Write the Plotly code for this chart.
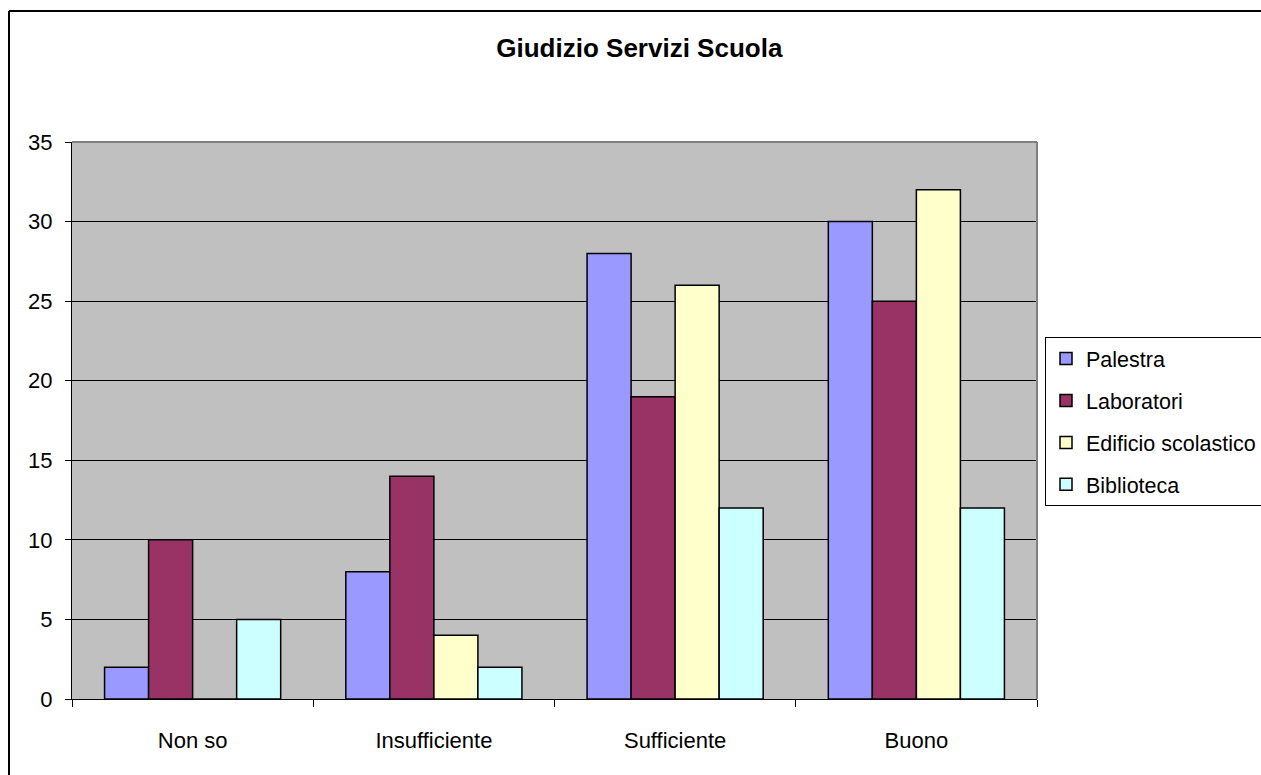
import plotly.graph_objects as go

categories = ["Non so", "Insufficiente", "Sufficiente", "Buono"]
palestra = [2, 8, 28, 30]
laboratori = [10, 14, 19, 25]
edificio = [0, 4, 26, 32]
biblioteca = [5, 2, 12, 12]

series = [
    ("Palestra", palestra, "#9999FF"),
    ("Laboratori", laboratori, "#993366"),
    ("Edificio scolastico", edificio, "#FFFFCC"),
    ("Biblioteca", biblioteca, "#CCFFFF"),
]

fig = go.Figure()
for i, (name, vals, col) in enumerate(series):
    fig.add_trace(go.Bar(
        x=categories, y=vals, name=name, legendgroup=f"g{i}",
        marker=dict(color=col, line=dict(color="black", width=1.5)),
    ))

L, R, T, B = 72, 1037, 142, 699
W, H = 1261, 775

def px(x):
    return (x - L) / (R - L)

def py(y):
    return (B - y) / (B - T)

fig.update_layout(
    width=W, height=H,
    margin=dict(l=L, r=W - R, t=T, b=H - B, autoexpand=False),
    paper_bgcolor="white",
    plot_bgcolor="#C0C0C0",
    font=dict(family="Liberation Sans, Arial, sans-serif", size=22, color="black"),
    title=dict(text="<b>Giudizio Servizi Scuola</b>", x=0.507, xanchor="center",
               y=1 - 48 / H, yanchor="middle", yref="container",
               font=dict(size=26, color="black")),
    barmode="group",
    bargap=0.27,
    bargroupgap=0,
    showlegend=True,
    legend=dict(x=px(1045), y=py(337), xanchor="left", yanchor="top",
                bordercolor="black", borderwidth=1, bgcolor="white",
                traceorder="grouped", tracegroupgap=11,
                font=dict(size=21.5), itemwidth=30),
    xaxis=dict(showline=True, linecolor="black", linewidth=1,
               ticks="outside", ticklen=7, tickcolor="black",
               tickson="boundaries", showgrid=False, tickfont=dict(size=22),
               ticklabelstandoff=22),
    yaxis=dict(range=[0, 35], dtick=5, showline=True, linecolor="black",
               linewidth=1, ticks="outside", ticklen=6, tickcolor="black",
               showgrid=True, gridcolor="black", gridwidth=1,
               zeroline=False, tickfont=dict(size=22), ticklabelstandoff=8),
    shapes=[
        dict(type="line", xref="paper", yref="paper", x0=0, x1=1, y0=1, y1=1,
             line=dict(color="#808080", width=2)),
        dict(type="line", xref="paper", yref="paper", x0=1, x1=1, y0=0, y1=1,
             line=dict(color="#808080", width=2)),
        dict(type="line", xref="paper", yref="paper",
             x0=px(9), x1=px(1262), y0=py(11), y1=py(11),
             line=dict(color="black", width=2), layer="above"),
        dict(type="line", xref="paper", yref="paper",
             x0=px(9), x1=px(9), y0=py(11), y1=py(776),
             line=dict(color="black", width=2), layer="above"),
    ],
)

fig.write_html("out.html")
